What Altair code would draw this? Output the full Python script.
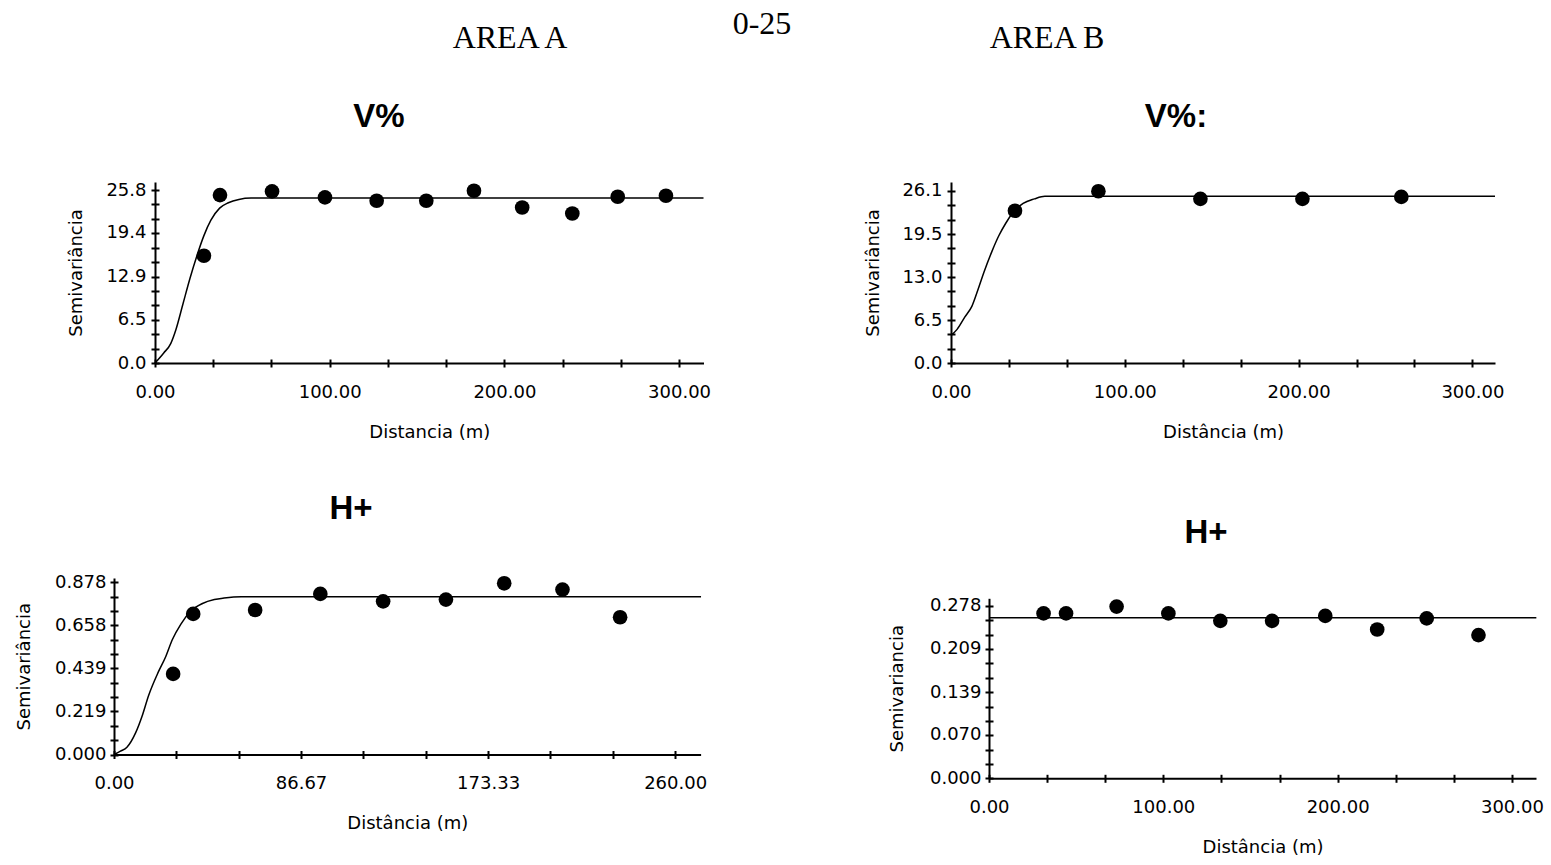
import altair as alt
import pandas as pd

# ---------------- values ----------------
# Area A - V%
a_v_lag = [28.0, 37.2, 67.0, 97.3, 126.9, 155.3, 182.6, 210.2, 238.9, 264.9, 292.5]
a_v_gamma = [16.0, 25.05, 25.6, 24.7, 24.2, 24.2, 25.7, 23.2, 22.3, 24.8, 24.95]
a_v_model_lag = [0, 5, 9, 12, 16, 20, 24, 28, 32, 37, 42, 48, 55, 314]
a_v_model_gamma = [0, 1.5, 2.9, 5.0, 8.8, 12.6, 16.0, 19.0, 21.3, 23.1, 23.9, 24.4, 24.6, 24.6]
a_v_xlabels = ["0.00", "100.00", "200.00", "300.00"]
a_v_ylabels = ["0.0", "6.5", "12.9", "19.4", "25.8"]

# Area B - V%:
b_v_lag = [36.8, 84.8, 143.5, 202.2, 259.1]
b_v_gamma = [23.1, 26.05, 24.9, 24.9, 25.2]
b_v_model_lag = [0, 3.5, 8, 12, 16, 19, 23.5, 27.5, 31.5, 35, 41.5, 48, 54, 313]
b_v_model_gamma = [4.2, 5.1, 7.0, 8.6, 11.5, 13.8, 16.9, 19.3, 21.2, 22.6, 24.2, 24.9, 25.3, 25.3]
b_v_xlabels = ["0.00", "100.00", "200.00", "300.00"]
b_v_ylabels = ["0.0", "6.5", "13.0", "19.5", "26.1"]

# Area A - H+
a_h_lag = [27.4, 36.7, 65.4, 95.6, 124.7, 153.8, 180.8, 207.8, 234.5]
a_h_gamma = [0.411, 0.717, 0.737, 0.819, 0.781, 0.790, 0.873, 0.841, 0.700]
a_h_model_lag = [0, 3, 6, 10, 13, 16, 20.5, 24, 27, 31, 35.5, 41, 46.5, 51, 59, 272]
a_h_model_gamma = [0, 0.017, 0.037, 0.11, 0.195, 0.30, 0.42, 0.50, 0.585, 0.665, 0.73,
                   0.77, 0.79, 0.798, 0.805, 0.805]
a_h_xlabels = ["0.00", "86.67", "173.33", "260.00"]
a_h_ylabels = ["0.000", "0.219", "0.439", "0.658", "0.878"]

# Area B - H+
b_h_lag = [31.3, 44.2, 73.2, 102.9, 132.7, 162.4, 192.9, 222.7, 251.1, 280.8]
b_h_gamma = [0.266, 0.266, 0.277, 0.266, 0.254, 0.254, 0.262, 0.240, 0.258, 0.231]
b_h_model_lag = [0, 314]
b_h_model_gamma = [0.259, 0.259]
b_h_xlabels = ["0.00", "100.00", "200.00", "300.00"]
b_h_ylabels = ["0.000", "0.070", "0.139", "0.209", "0.278"]

header_texts = ["AREA A", "0-25", "AREA B"]
panel_titles = ["V%", "V%:", "H+", "H+"]
x_titles = ["Distancia (m)", "Distância (m)", "Distância (m)", "Distância (m)"]
y_titles = ["Semivariância", "Semivariância", "Semivariância", "Semivariancia"]

# ---------------- layout / style ----------------
W, H = 1551, 865
AX_FONT = "DejaVu Sans"
AX_SIZE = 18


def minor_ticks(labels):
    lo, hi = float(labels[0]), float(labels[-1])
    n = 3 * (len(labels) - 1)
    return [lo + i * (hi - lo) / n for i in range(n + 1)]


def panel(lag, gamma, mlag, mgamma, xlabels, ylabels, xdom, ydom, xr, yr,
          xfmt, yfmt, xtitle, ytitle, ytitle_dx, ylab_pad):
    pts = pd.DataFrame({"d": lag, "g": gamma})
    mdl = pd.DataFrame({"d": mlag, "g": mgamma})
    xs = alt.Scale(domain=xdom, range=xr, nice=False, zero=False)
    ys = alt.Scale(domain=ydom, range=yr, nice=False, zero=False)
    xmaj = [float(v) for v in xlabels]
    ymaj = [float(v) for v in ylabels]

    x_main = alt.Axis(orient="bottom", offset=yr[0] - H, values=xmaj, format=xfmt,
                      ticks=False, grid=False, domainColor="black", domainWidth=2,
                      labelFont=AX_FONT, labelFontSize=AX_SIZE, labelColor="black",
                      labelPadding=29, labelBaseline="middle", labelFlush=False,
                      labelOverlap=False, title=xtitle, titleFont=AX_FONT,
                      titleFontSize=AX_SIZE, titleFontWeight="normal", titleColor="black",
                      titleBaseline="middle", titleAlign="center",
                      titleX=(xr[0] + xr[1]) / 2, titleY=69)
    y_main = alt.Axis(orient="left", offset=-xr[0], values=ymaj, format=yfmt,
                      ticks=False, grid=False, domainColor="black", domainWidth=2,
                      labelFont=AX_FONT, labelFontSize=AX_SIZE, labelColor="black",
                      labelPadding=ylab_pad, labelFlush=False, labelOverlap=False,
                      title=ytitle, titleFont=AX_FONT, titleFontSize=AX_SIZE,
                      titleFontWeight="normal", titleColor="black", titleAngle=270,
                      titleBaseline="middle", titleAlign="center",
                      titleX=ytitle_dx, titleY=(yr[0] + yr[1]) / 2)
    x_tick = alt.Axis(orient="bottom", offset=yr[0] - 4 - H, values=minor_ticks(xlabels),
                      domain=False, labels=False, grid=False, tickSize=8, tickWidth=2,
                      tickColor="black", title=None)
    y_tick = alt.Axis(orient="left", offset=-(xr[0] + 4), values=minor_ticks(ylabels),
                      domain=False, labels=False, grid=False, tickSize=8, tickWidth=2,
                      tickColor="black", title=None)

    line = alt.Chart(mdl).mark_line(color="black", strokeWidth=1.5,
                                    interpolate="monotone").encode(
        x=alt.X("d:Q", scale=xs, axis=x_main),
        y=alt.Y("g:Q", scale=ys, axis=y_main),
    )
    dots = alt.Chart(pts).mark_circle(color="black", opacity=1, size=215).encode(
        x=alt.X("d:Q", scale=xs, axis=x_tick),
        y=alt.Y("g:Q", scale=ys, axis=y_tick),
    )
    return alt.layer(line, dots).resolve_axis(x="independent", y="independent")


p_av = panel(a_v_lag, a_v_gamma, a_v_model_lag, a_v_model_gamma, a_v_xlabels, a_v_ylabels,
             [0, 314], [0, 27.0], [155, 703.5], [363, 182], ".2f", ".1f",
             x_titles[0], y_titles[0], -79, 9)
p_bv = panel(b_v_lag, b_v_gamma, b_v_model_lag, b_v_model_gamma, b_v_xlabels, b_v_ylabels,
             [0, 313], [0, 27.46], [951, 1495], [363, 182], ".2f", ".1f",
             x_titles[1], y_titles[1], -78, 9)
p_ah = panel(a_h_lag, a_h_gamma, a_h_model_lag, a_h_model_gamma, a_h_xlabels, a_h_ylabels,
             [0, 271.8], [0, 0.90], [114, 700.6], [754.5, 578], ".2f", ".3f",
             x_titles[2], y_titles[2], -90, 8)
p_bh = panel(b_h_lag, b_h_gamma, b_h_model_lag, b_h_model_gamma, b_h_xlabels, b_h_ylabels,
             [0, 313.8], [0, 0.2904], [989, 1536], [778.3, 598.3], ".2f", ".3f",
             x_titles[3], y_titles[3], -92, 8)


def label(text, x, y, font, size, weight="normal"):
    return alt.Chart(pd.DataFrame({"t": [text]})).mark_text(
        font=font, fontSize=size, fontWeight=weight, align="center",
        baseline="alphabetic", color="black",
    ).encode(x=alt.value(x), y=alt.value(y), text="t:N")


texts = [
    label(header_texts[0], 510, 48, "Liberation Serif", 32),
    label(header_texts[1], 762, 33.5, "Liberation Serif", 32),
    label(header_texts[2], 1047, 48, "Liberation Serif", 32),
    label(panel_titles[0], 379, 127, "Liberation Sans", 33, "bold"),
    label(panel_titles[1], 1176, 127, "Liberation Sans", 33, "bold"),
    label(panel_titles[2], 351, 519, "Liberation Sans", 33, "bold"),
    label(panel_titles[3], 1206, 543, "Liberation Sans", 33, "bold"),
]

chart = alt.layer(p_av, p_bv, p_ah, p_bh, *texts).resolve_scale(
    x="independent", y="independent"
).resolve_axis(
    x="independent", y="independent"
).properties(
    width=W, height=H, padding=0, autosize=alt.AutoSizeParams(type="none"),
).configure(background="white").configure_view(strokeWidth=0)

chart.save("out.html", embed_options={"renderer": "svg", "actions": False})
